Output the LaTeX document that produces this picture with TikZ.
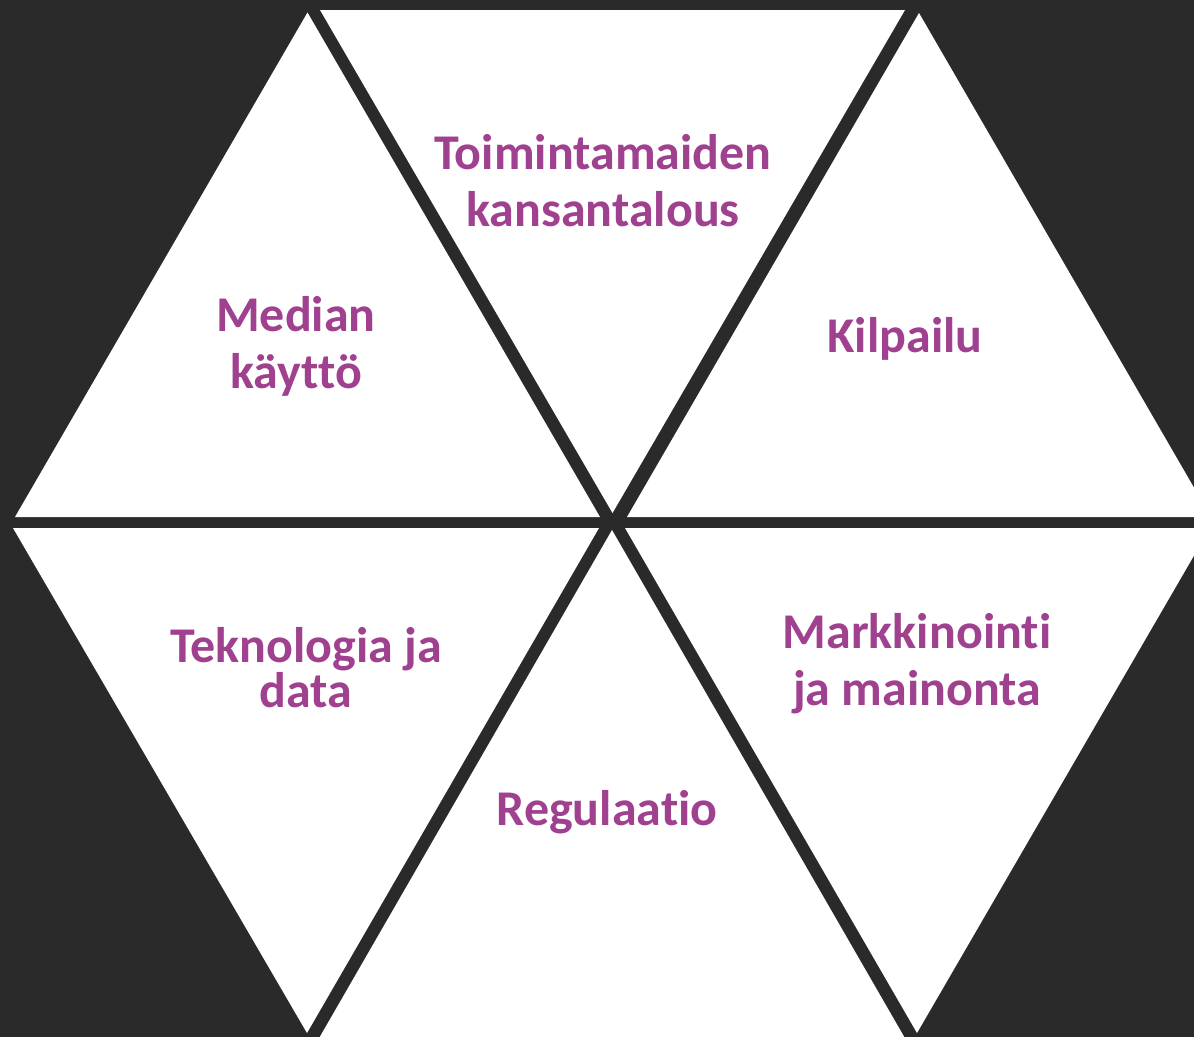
\documentclass[tikz,border=0pt]{standalone}
\usepackage{fontspec}
\setmainfont{Carlito}[Ligatures={NoCommon,TeX}]
\definecolor{bgdark}{HTML}{2A2A2A}
\definecolor{labelpurple}{HTML}{A04190}
\begin{document}
\begin{tikzpicture}[x=1pt,y=-1pt,
  tri/.style={fill=white,draw=none},
  lbl/.style={text=labelpurple,font=\bfseries\fontsize{50}{57}\selectfont,align=center,inner sep=0pt},
  lbltight/.style={text=labelpurple,font=\bfseries\fontsize{50}{45}\selectfont,align=center,inner sep=0pt}]
\fill[bgdark] (0,0) rectangle (1194,1037);
\useasboundingbox (0,0) rectangle (1194,1037);
\begin{scope}
\clip (0,0) rectangle (1194,1037);
% upper row
\fill[tri] (307.5,12.5) -- (15,517) -- (600,517) -- cycle;
\fill[tri] (320,10) -- (905,10) -- (612.5,513) -- cycle;
\fill[tri] (919,13) -- (627,517) -- (1211,517) -- cycle;
% lower row
\fill[tri] (13,528) -- (599,528) -- (307,1033) -- cycle;
\fill[tri] (612,530) -- (318,1040) -- (906,1040) -- cycle;
\fill[tri] (625,528) -- (1210,528) -- (917,1033) -- cycle;
\end{scope}
\node[lbl] (toim) at (603,181) {Toimintamaiden\\kansantalous};
\node[lbl] (median) at (296,346) {Median\\käyttö};
\node[lbl] (kilp) at (905,339) {Kilpailu};
\node[lbltight] (tekno) at (306,668) {Teknologia ja\\data};
\node[lbl] (mark) at (917,664) {Markkinointi\\ja mainonta};
\node[lbl] (regu) at (607,812) {Regulaatio};
\end{tikzpicture}
\end{document}
